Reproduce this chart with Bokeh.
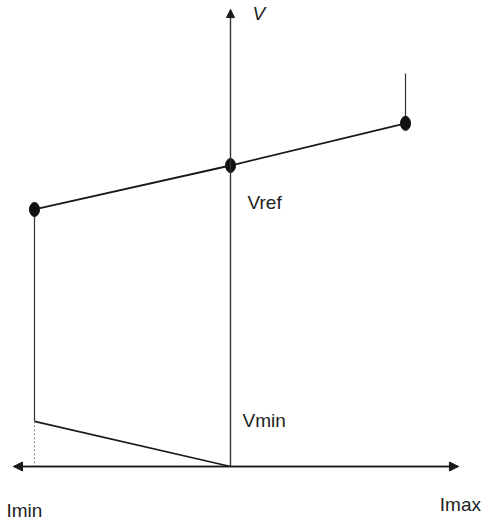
from bokeh.plotting import figure
from bokeh.models import Range1d, ColumnDataSource, Arrow, NormalHead
from bokeh.core.properties import value
from bokeh.embed import file_html
from bokeh.resources import INLINE

# Data (I in units of |Imin|, V in units of Vref)
I_points = [-1.0, 0.0, 0.893]      # Imin, 0, upper end
V_points = [0.854, 1.0, 1.14]      # droop characteristic points
I_vmin_line = [-1.0, 0.0]
V_vmin_line = [0.15, 0.0]
I_stub = [0.893, 0.893]
V_stub = [1.14, 1.306]
I_left = [-1.0, -1.0]
V_left = [0.854, 0.15]
I_dot = [-1.0, -1.0]
V_dot = [0.15, 0.0]
I_axis = [-1.107, 1.163]
V_axis_top = 1.518

label_text = ["V", "Vref", "Vmin", "Imin", "Imax"]
label_I = [0.112, 0.087, 0.061, -1.143, 1.068]
label_V = [1.505, 0.877, 0.152, -0.146, -0.126]
label_style = ["italic", "normal", "normal", "normal", "normal"]

# screen mapping: x_px = 230 + 196*I ; y_px = 466 - 301*V
x0, xs = 230.0, 196.0
y0, ys = 466.0, 301.0
W, H = 482, 521

p = figure(width=W, height=H, output_backend="svg", toolbar_location=None,
           x_range=Range1d((0 - x0) / xs, (W - x0) / xs),
           y_range=Range1d((y0 - H) / ys, y0 / ys),
           min_border=0, outline_line_color=None)
p.axis.visible = False
p.grid.visible = False
p.background_fill_color = "white"
p.border_fill_color = "white"

col = "#1a1a1a"
# axes
p.line(I_axis, [0, 0], line_color=col, line_width=1.6)
p.line([0, 0], [0, V_axis_top], line_color="#333333", line_width=1.2)
p.add_layout(Arrow(end=NormalHead(size=9, fill_color=col, line_color=col),
                   x_start=0, y_start=0, x_end=I_axis[1], y_end=0,
                   line_color=col, line_width=1.6))
p.add_layout(Arrow(end=NormalHead(size=9, fill_color=col, line_color=col),
                   x_start=0, y_start=0, x_end=I_axis[0], y_end=0,
                   line_color=col, line_width=1.6))
p.add_layout(Arrow(end=NormalHead(size=8, fill_color=col, line_color=col),
                   x_start=0, y_start=0, x_end=0, y_end=V_axis_top,
                   line_color="#333333", line_width=1.2))

# characteristic
p.line(I_points, V_points, line_color=col, line_width=1.8)
p.line(I_vmin_line, V_vmin_line, line_color=col, line_width=1.6)
p.line(I_stub, V_stub, line_color="#333333", line_width=1.2)
p.line(I_left, V_left, line_color="#333333", line_width=1.2)
p.line(I_dot, V_dot, line_color="#888888", line_width=1, line_dash="2 2")
p.ellipse(I_points, V_points, width=10, height=14, width_units="screen",
          height_units="screen", fill_color="#111111", line_color="#111111")

src = ColumnDataSource(dict(x=label_I, y=label_V, t=label_text, s=label_style))
p.text("x", "y", text="t", source=src, text_font=value("Liberation Sans"),
       text_font_size="19px", text_font_style="s", text_color="#222222",
       text_baseline="middle", text_align="left")

open("out.html", "w").write(file_html(p, INLINE))
